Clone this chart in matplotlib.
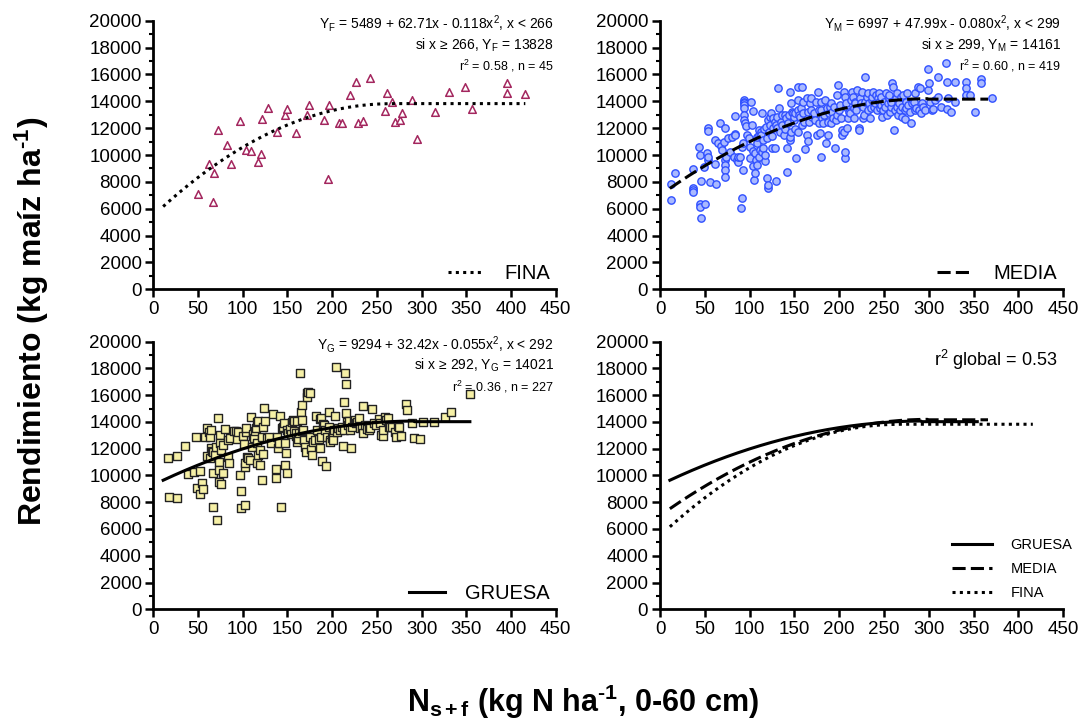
import numpy as np
import matplotlib
matplotlib.use("Agg")
import matplotlib.pyplot as plt
from matplotlib.ticker import MultipleLocator

plt.rcParams['font.family'] = ['Liberation Sans', 'DejaVu Sans']
plt.rcParams['mathtext.fontset'] = 'custom'
plt.rcParams['mathtext.rm'] = 'Liberation Sans'
plt.rcParams['mathtext.it'] = 'Liberation Sans:italic'
plt.rcParams['mathtext.bf'] = 'Liberation Sans:bold'
plt.rcParams['mathtext.default'] = 'regular'

# ---- FINA (45 obs) ----
fina_x = [50, 67, 62, 68, 72, 82, 87, 97, 104, 109, 120, 117, 122, 128, 138,
          147, 150, 160, 172, 174, 191, 196, 195, 208, 211, 220, 227, 229, 235,
          242, 259, 261, 267, 270, 276, 278, 289, 295, 315, 331, 349, 356, 396,
          396, 416]
fina_y = [7090, 6500, 9310, 8670, 11830, 10720, 9330, 12520, 10390, 10300,
          10070, 9460, 12670, 13500, 11730, 13010, 13410, 11630, 12960, 13700,
          12590, 13730, 8240, 12370, 12370, 14500, 15430, 12350, 12540, 15750,
          13280, 14640, 13950, 12440, 12640, 13140, 14120, 11210, 13210, 14720,
          15060, 13430, 15330, 14640, 14570]

# ---- MEDIA ----
media_x = [12, 12, 17, 37, 37, 37, 37, 43, 45, 45, 45, 46, 50, 46, 49, 52, 53,
           53, 53, 53, 56, 61, 61, 63, 65, 67, 68, 69, 71, 72, 72, 72, 72, 72,
           74, 76, 78, 80, 82, 84, 84, 84, 86, 87, 87, 89, 91, 92, 90, 93, 93,
           94, 94, 94, 94, 94, 94, 94, 95, 96, 97, 99, 100, 100, 102, 103, 104,
           104, 104, 105, 106, 106, 107, 108, 108, 108, 110, 110, 110, 112, 113,
           113, 114, 114, 115, 115, 116, 117, 117, 118, 119, 119, 120, 121, 121,
           122, 123, 123, 124, 125, 125, 126, 126, 128, 128, 129, 129, 130, 131,
           132, 133, 134, 135, 136, 136, 138, 139, 139, 141, 142, 142, 143, 144,
           145, 145, 145, 146, 146, 147, 148, 149, 150, 151, 151, 152, 154, 154,
           154, 154, 155, 156, 157, 158, 158, 159, 160, 161, 162, 164, 164, 165,
           165, 166, 167, 168, 169, 170, 172, 173, 174, 175, 176, 177, 177, 178,
           180, 180, 180, 181, 182, 183, 184, 185, 186, 187, 188, 189, 190, 191,
           191, 192, 193, 194, 195, 196, 197, 198, 199, 200, 201, 202, 203, 203,
           205, 205, 206, 206, 206, 207, 208, 209, 210, 211, 212, 213, 214, 215,
           216, 217, 218, 218, 219, 220, 222, 222, 223, 224, 225, 226, 227, 228,
           229, 229, 231, 232, 232, 233, 234, 235, 236, 237, 238, 239, 240, 241,
           242, 243, 244, 244, 245, 247, 247, 248, 249, 250, 251, 252, 253, 254,
           255, 255, 257, 258, 258, 259, 260, 261, 262, 263, 264, 265, 266, 267,
           268, 269, 270, 270, 271, 273, 273, 274, 275, 276, 277, 279, 280, 281,
           283, 284, 284, 286, 288, 289, 290, 291, 292, 294, 296, 299, 299, 300,
           301, 303, 305, 307, 310, 310, 313, 319, 320, 320, 321, 325, 329, 329,
           342, 342, 342, 346, 352, 358, 358, 370]
media_y = [7820, 6650, 8640, 8960, 7570, 7390, 7270, 10620, 10000, 6350, 6100,
           5280, 6350, 8090, 9130, 10170, 9630, 9880, 11990, 11810, 8020, 9330,
           11120, 7840, 10870, 12360, 10670, 10370, 10990, 11990, 9630, 9260,
           8880, 8340, 9880, 11240, 10250, 11370, 9880, 11560, 11490, 12900,
           9630, 9500, 9830, 9880, 10620, 6770, 6080, 8880, 10870, 14100, 13970,
           13850, 13720, 13480, 12980, 12610, 12360, 12190, 11490, 11240, 10620,
           9750, 13970, 12230, 13280, 10320, 9180, 8140, 8640, 10120, 9630, 9260,
           10870, 11370, 11490, 9880, 11860, 10370, 11740, 11490, 13100, 10250,
           11120, 10500, 11910, 9550, 10000, 12110, 11240, 8260, 7520, 12610,
           7770, 11740, 12230, 12860, 13100, 10500, 11420, 11990, 12730, 12480,
           10500, 8090, 12230, 12860, 11990, 14960, 13480, 11740, 12480, 12980,
           12230, 11490, 11910, 12980, 12730, 10500, 8760, 12360, 12980, 14720,
           11120, 11370, 13850, 11740, 13230, 13100, 12610, 12860, 11910, 13100,
           9750, 11740, 14100, 15090, 13350, 12980, 12860, 13480, 15090, 12230,
           13100, 13970, 12480, 10420, 14220, 11490, 11070, 13230, 12480, 13850,
           14220, 13350, 12860, 13100, 12610, 13970, 11490, 14720, 13350, 12360,
           11610, 9880, 13970, 13350, 12730, 12360, 12980, 14100, 10920, 13480,
           12480, 11490, 13100, 13600, 12360, 13850, 13230, 12730, 13600, 10500,
           12610, 12980, 14470, 15210, 13350, 13720, 12730, 11490, 11860, 11740,
           14720, 14340, 9750, 10250, 13600, 13850, 11990, 12730, 13230, 13100,
           14100, 14720, 14340, 13480, 12730, 13970, 13850, 13350, 14840, 11990,
           11860, 14220, 13850, 14720, 12730, 13600, 12980, 13970, 15780, 14340,
           13350, 14590, 13850, 12730, 13480, 14100, 14340, 14720, 13600, 13850,
           14470, 13350, 14220, 13970, 14590, 13480, 14340, 13720, 12860, 13350,
           13970, 13600, 14590, 12980, 13850, 14220, 14470, 13230, 13600, 13970,
           15340, 15090, 11860, 13350, 14220, 13600, 14590, 12980, 13850, 13350,
           14340, 12860, 13600, 14470, 12660, 13350, 13970, 13480, 14590, 13720,
           13230, 12410, 13850, 13970, 14590, 13350, 13480, 15090, 13350, 14960,
           13100, 13850, 13600, 13350, 16380, 14840, 15390, 13970, 13350, 13400,
           14100, 15780, 14340, 13600, 16880, 15460, 13400, 14220, 13230, 15460,
           13970, 15460, 14960, 14470, 14470, 13230, 15630, 15390, 14270]

# ---- GRUESA ----
gruesa_x = [16, 17, 26, 27, 35, 39, 46, 48, 49, 52, 52, 54, 56, 58, 60, 60, 62,
            63, 63, 65, 65, 66, 67, 67, 67, 69, 70, 71, 72, 73, 73, 74, 75, 75,
            76, 76, 78, 78, 80, 83, 84, 85, 86, 90, 93, 94, 95, 97, 98, 98, 100,
            101, 102, 103, 103, 104, 104, 105, 106, 108, 109, 110, 111, 112, 113,
            114, 115, 116, 116, 116, 117, 117, 119, 119, 121, 122, 123, 123, 124,
            125, 127, 129, 132, 134, 137, 137, 138, 139, 140, 141, 142, 143, 144,
            145, 146, 147, 147, 148, 149, 150, 151, 153, 154, 155, 156, 157, 157,
            160, 160, 161, 161, 162, 163, 164, 165, 166, 166, 166, 167, 168, 169,
            170, 171, 172, 172, 173, 175, 175, 176, 177, 179, 181, 182, 183, 185,
            186, 186, 187, 188, 189, 190, 191, 192, 193, 194, 196, 196, 198, 198,
            200, 201, 201, 202, 203, 204, 205, 207, 209, 211, 212, 213, 213, 214,
            216, 216, 217, 218, 219, 220, 221, 222, 224, 226, 227, 228, 230, 231,
            233, 234, 235, 237, 239, 241, 242, 244, 247, 249, 252, 254, 255, 257,
            257, 259, 260, 262, 264, 265, 267, 270, 271, 274, 275, 277, 283, 284,
            289, 291, 298, 302, 314, 326, 333, 354]
gruesa_y = [11280, 8420, 11460, 8290, 12230, 10110, 10290, 12900, 9040, 8620,
            10310, 9470, 8970, 12900, 11460, 13530, 13280, 12850, 11280, 13400,
            12030, 11860, 11780, 10160, 7620, 11530, 12110, 6680, 14270, 11040,
            10410, 9540, 13030, 12410, 11910, 9370, 12280, 10210, 13450, 12650,
            11360, 10960, 12780, 13350, 13350, 12700, 13280, 10040, 8870, 7550,
            12950, 12360, 10660, 7800, 10910, 13280, 13580, 11360, 11280, 11160,
            14350, 12160, 12950, 13080, 12780, 13330, 13580, 14020, 12460, 10910,
            14100, 11530, 11910, 10790, 12900, 9660, 13650, 11610, 15070, 14100,
            12830, 12900, 12410, 14570, 10460, 9840, 12900, 12080, 12460, 12460,
            14450, 7620, 13530, 13650, 13900, 12410, 10790, 11660, 10210, 13400,
            13150, 13450, 13100, 14020, 14150, 14100, 13350, 12950, 13150, 12530,
            14100, 12700, 13200, 17690, 14770, 14150, 15270, 13350, 13400, 12650,
            12650, 12160, 11780, 16140, 15890, 16270, 16190, 12900, 11960, 11530,
            12530, 12650, 14450, 13400, 12700, 14200, 12030, 12900, 14320, 11090,
            13850, 13780, 13400, 10710, 12900, 14770, 13650, 12650, 12530, 12780,
            13150, 12650, 13400, 14450, 18080, 13280, 13530, 13400, 13650, 12210,
            13400, 15520, 17690, 14700, 16840, 14020, 13780, 14100, 13400, 12030,
            13650, 14020, 14150, 13900, 14020, 14270, 13580, 13650, 15200, 13150,
            13780, 13450, 13400, 13530, 14950, 13950, 13780, 14200, 13950, 13030,
            12950, 13400, 14350, 14150, 14270, 13600, 13650, 13600, 13280, 12850,
            13730, 13650, 12980, 15340, 14900, 13900, 12780, 12730, 14020, 14020,
            14350, 14770, 16070]

# fitted quadratic-plateau models printed on the chart: a, b, c, x_break, plateau
fina_fit = (5489, 62.71, -0.118, 266, 13828)
media_fit = (6997, 47.99, -0.080, 299, 14161)
gruesa_fit = (9294, 32.42, -0.055, 292, 14021)
fina_range = (11, 416)
media_range = (11, 366)
gruesa_range = (11, 354)


def curve(fit, xr):
    a, b, c, xb, yp = fit
    x = np.linspace(xr[0], xr[1], 300)
    return x, np.where(x < xb, a + b * x + c * x ** 2, yp)


def style_axes(ax):
    ax.set_xlim(0, 450)
    ax.set_ylim(0, 20000)
    ax.xaxis.set_major_locator(MultipleLocator(50))
    ax.yaxis.set_major_locator(MultipleLocator(2000))
    ax.yaxis.set_minor_locator(MultipleLocator(1000))
    for s in ['top', 'right']:
        ax.spines[s].set_visible(False)
    for s in ['left', 'bottom']:
        ax.spines[s].set_linewidth(2)
    ax.tick_params(which='major', length=6, width=1.8, labelsize=13.5, pad=2.5)
    ax.tick_params(which='minor', length=3, width=1.5)
    ax.tick_params(axis='x', which='minor', length=0)
    ax.set_facecolor('none')


LS_FINA = (0, (1, 1.4))
LS_MEDIA = (0, (4.3, 1.7))
LW = 2.2

fig = plt.figure(figsize=(10.82, 7.19), dpi=100)
ax1 = fig.add_axes([0.1417, 0.5976, 0.3719, 0.3736])
ax2 = fig.add_axes([0.6100, 0.5976, 0.3727, 0.3736])
ax3 = fig.add_axes([0.1417, 0.1526, 0.3719, 0.3722])
ax4 = fig.add_axes([0.6100, 0.1526, 0.3727, 0.3722])

# panel FINA
ax1.scatter(fina_x, fina_y, marker='^', s=30, facecolors='white',
            edgecolors='#a3265e', linewidths=1.1, zorder=2)
x, y = curve(fina_fit, fina_range)
ax1.plot(x, y, color='black', lw=LW, ls=LS_FINA, zorder=3, label='FINA')

# panel MEDIA
ax2.scatter(media_x, media_y, marker='o', s=28, facecolors='#a9b9ff',
            edgecolors='#3050ff', linewidths=1.0, zorder=2)
x, y = curve(media_fit, media_range)
ax2.plot(x, y, color='black', lw=LW, ls=LS_MEDIA, zorder=3, label='MEDIA')

# panel GRUESA
ax3.scatter(gruesa_x, gruesa_y, marker='s', s=30, facecolors='#f6f0a6',
            edgecolors='#222222', linewidths=1.0, zorder=2)
x, y = curve(gruesa_fit, gruesa_range)
ax3.plot(x, y, color='black', lw=LW, zorder=3, label='GRUESA')

# all curves
for fit, xr, ls, lab in [(gruesa_fit, gruesa_range, '-', 'GRUESA'),
                         (media_fit, media_range, LS_MEDIA, 'MEDIA'),
                         (fina_fit, fina_range, LS_FINA, 'FINA')]:
    x, y = curve(fit, xr)
    ax4.plot(x, y, color='black', lw=LW, ls=ls, label=lab)

for ax in [ax1, ax2, ax3, ax4]:
    style_axes(ax)

eq = {
    ax1: ['Y$_F$ = 5489 + 62.71x - 0.118x$^2$, x < 266',
          'si x ≥ 266, Y$_F$ = 13828', 'r$^2$ = 0.58 , n = 45'],
    ax2: ['Y$_M$ = 6997 + 47.99x - 0.080x$^2$, x < 299',
          'si x ≥ 299, Y$_M$ = 14161', 'r$^2$ = 0.60 , n = 419'],
    ax3: ['Y$_G$ = 9294 + 32.42x - 0.055x$^2$, x < 292',
          'si x ≥ 292, Y$_G$ = 14021', 'r$^2$ = 0.36 , n = 227'],
}
for ax, lines in eq.items():
    ax.text(0.995, 0.988, lines[0], transform=ax.transAxes, ha='right', va='center', fontsize=10)
    ax.text(0.995, 0.91, lines[1], transform=ax.transAxes, ha='right', va='center', fontsize=10)
    ax.text(0.995, 0.83, lines[2], transform=ax.transAxes, ha='right', va='center', fontsize=9)

for ax in [ax1, ax2, ax3]:
    ax.legend(loc='lower right', bbox_to_anchor=(1.0, 0.0), frameon=False,
              fontsize=14.5, handlelength=1.8, handletextpad=1.0,
              borderaxespad=0.1, borderpad=0.2)

ax4.text(0.985, 0.93, 'r$^2$ global = 0.53', transform=ax4.transAxes,
         ha='right', va='center', fontsize=13)
ax4.legend(loc='lower right', bbox_to_anchor=(1.055, -0.015), frameon=False,
           fontsize=10.5, handlelength=2.7, handletextpad=1.3, labelspacing=0.7)

fig.text(0.029, 0.553, 'Rendimiento (kg maíz ha$^{\\mathbf{\u2010}\\mathbf{1}}$)', rotation=90,
         ha='center', va='center', fontsize=23, fontweight='bold')
fig.text(0.539, 0.024, 'N$_{\\mathbf{s+f}}$ (kg N ha$^{\\mathbf{\u2010}\\mathbf{1}}$, 0-60 cm)',
         ha='center', va='center', fontsize=22, fontweight='bold')

fig.savefig('out.png', dpi=100)
